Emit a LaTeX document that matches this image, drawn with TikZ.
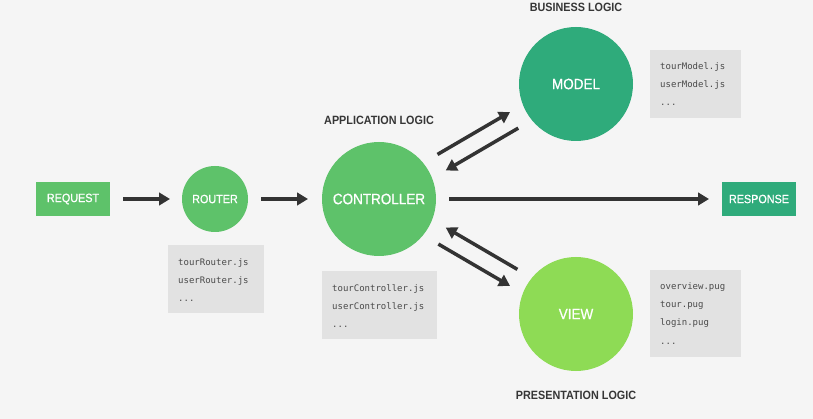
\documentclass[tikz,border=0pt]{standalone}
\usepackage{fontspec}
\setmainfont{Liberation Sans}[FakeStretch=0.9]
\newfontfamily\labelfont{Liberation Sans}[FakeStretch=0.9,FakeBold=0.7]
\newfontfamily\codefont{DejaVu Sans Mono}
\usetikzlibrary{arrows.meta,calc}

\definecolor{bgcol}{HTML}{F5F5F5}
\definecolor{ctrlgreen}{HTML}{5EC26A}
\definecolor{modelgreen}{HTML}{2FAB7B}
\definecolor{viewgreen}{HTML}{8EDB55}
\definecolor{filegray}{HTML}{E2E2E2}
\definecolor{codegray}{HTML}{4A4A4A}
\definecolor{titlegray}{HTML}{363636}
\definecolor{arrowgray}{HTML}{333333}

\tikzset{
  x=1pt, y=-1pt,
  labelbox/.style={rectangle, draw=none, outer sep=0pt, inner sep=0pt,
    minimum width=74pt, minimum height=34pt, text=white,
    font=\labelfont\fontsize{12}{14}\selectfont},
  bigcircle/.style={circle, draw=none, outer sep=0pt, inner sep=0pt,
    minimum size=114pt, text=white, font=\labelfont\fontsize{15}{18}\selectfont},
  smallcircle/.style={circle, draw=none, outer sep=0pt, inner sep=0pt,
    minimum size=66pt, text=white, font=\labelfont\fontsize{12}{14}\selectfont},
  layertitle/.style={text=titlegray, inner sep=0pt,
    font=\bfseries\fontsize{12}{14}\selectfont},
  filebox/.style={rectangle, fill=filegray, draw=none, outer sep=0pt, inner sep=0pt},
  filetext/.style={anchor=north west, inner sep=0pt, align=left, text=codegray,
    font=\codefont\fontsize{9}{18.4}\selectfont},
  arr/.style={draw=arrowgray, line width=3.5pt,
    -{Triangle[length=11pt,width=12.5pt]}},
}

\begin{document}
\begin{tikzpicture}
  % canvas
  \fill[bgcol] (0,0) rectangle (813,419);
  \useasboundingbox (0,0) rectangle (813,419);

  % request / response endpoints
  \node[labelbox, fill=ctrlgreen] (req) at (73,199) {REQUEST};
  \node[labelbox, fill=modelgreen] (resp) at (759,199) {RESPONSE};

  % MVC components
  \node[smallcircle, fill=ctrlgreen] (router) at (215,199) {ROUTER};
  \node[bigcircle, fill=ctrlgreen] (ctrl) at (379,199) {CONTROLLER};
  \node[bigcircle, fill=modelgreen] (model) at (576,84) {MODEL};
  \node[bigcircle, fill=viewgreen] (view) at (576,314) {VIEW};

  % layer titles
  \node[layertitle] (apptitle) at (379,120) {APPLICATION LOGIC};
  \node[layertitle] (bustitle) at (576,7) {BUSINESS LOGIC};
  \node[layertitle] (prestitle) at (576,395) {PRESENTATION LOGIC};

  % file lists
  \node[filebox, minimum width=96pt, minimum height=68pt] (rfiles) at (216,279) {};
  \node[filetext] (rtext) at ($(rfiles.north west)+(10,13)$)
    {tourRouter.js\\userRouter.js\\...};

  \node[filebox, minimum width=115pt, minimum height=68pt] (cfiles) at (379.5,305) {};
  \node[filetext] (ctext) at ($(cfiles.north west)+(10,13)$)
    {tourController.js\\userController.js\\...};

  \node[filebox, minimum width=91pt, minimum height=68pt] (mfiles) at (695.5,84) {};
  \node[filetext] (mtext) at ($(mfiles.north west)+(10,12)$)
    {tourModel.js\\userModel.js\\...};

  \node[filebox, minimum width=91pt, minimum height=87pt] (vfiles) at (695.5,313.5) {};
  \node[filetext] (vtext) at ($(vfiles.north west)+(10,12)$)
    {overview.pug\\tour.pug\\login.pug\\...};

  % request flow
  \draw[arr, shorten <=13pt, shorten >=12pt] (req) -- (router);
  \draw[arr, shorten <=13pt, shorten >=14pt] (router) -- (ctrl);
  \draw[arr, shorten <=13pt, shorten >=13pt] (ctrl) -- (resp);

  % controller <-> model
  \draw[arr] ($(ctrl)!73pt!(model)!9pt!90:(model)$) -- ($(ctrl)!157pt!(model)!9pt!90:(model)$);
  \draw[arr] ($(ctrl)!156pt!(model)!9pt!-90:(model)$) -- ($(ctrl)!72pt!(model)!9pt!-90:(model)$);

  % controller <-> view
  \draw[arr] ($(ctrl)!74pt!(view)!9pt!-90:(view)$) -- ($(ctrl)!157pt!(view)!9pt!-90:(view)$);
  \draw[arr] ($(ctrl)!155pt!(view)!9pt!90:(view)$) -- ($(ctrl)!72pt!(view)!9pt!90:(view)$);
\end{tikzpicture}
\end{document}
